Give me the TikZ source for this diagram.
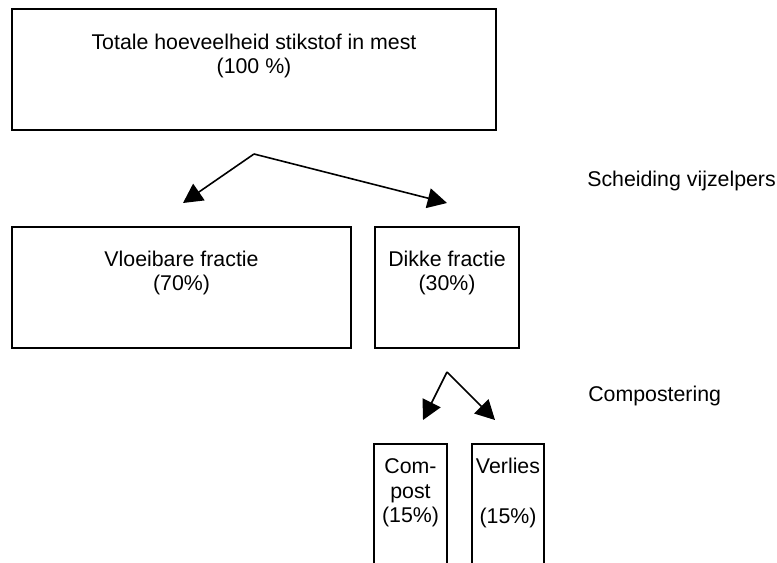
\documentclass[tikz,border=0pt]{standalone}
\usepackage{fontspec}
\setmainfont{Liberation Sans}
\usetikzlibrary{fit,arrows.meta}
\tikzset{
  box/.style={draw, line width=1.2pt, inner sep=0pt},
  txt/.style={font=\fontsize{16pt}{18.4pt}\selectfont, align=center, inner sep=0pt},
  lbl/.style={font=\fontsize{16pt}{18.4pt}\selectfont, anchor=west, inner sep=0pt},
  arr/.style={line width=1.2pt, -{Triangle[length=14.5pt,width=15pt]}}
}
\begin{document}
\begin{tikzpicture}[x=0.75pt,y=-0.75pt]
\useasboundingbox (0,0) rectangle (777,563);
\clip (0,0) rectangle (777,563);
% boxes
\node[box, fit={(12,9) (496,130)}] (top) {};
\node[box, fit={(12,227) (351,348)}] (vloei) {};
\node[box, fit={(375,227) (519,348)}] (dikke) {};
\node[box, fit={(374,444) (447,620)}] (compost) {};
\node[box, fit={(472,444) (544,620)}] (verlies) {};
% texts
\node[txt] (ttop) at (254,56) {Totale hoeveelheid stikstof in mest\\(100 \%)};
\node[txt] (tvloei) at (181.5,273) {Vloeibare fractie\\(70\%)};
\node[txt] (tdikke) at (447,273) {Dikke fractie\\(30\%)};
\node[txt] (tcompost) at (410.5,493) {Com-\\post\\(15\%)};
\node[txt] (tverlies) at (508,493) {Verlies\\\mbox{}\\(15\%)};
\node[lbl] (scheiding) at (587,181) {Scheiding vijzelpers};
\node[lbl] (compostering) at (588,396) {Compostering};
% arrows
\coordinate (apex1) at (254,154);
\coordinate (tip1a) at (183,203);
\coordinate (tip1b) at (447,203);
\coordinate (apex2) at (447,372);
\coordinate (tip2a) at (423,420);
\coordinate (tip2b) at (495,420);
\draw[arr] (apex1) -- (tip1a);
\draw[arr] (apex1) -- (tip1b);
\draw[arr] (apex2) -- (tip2a);
\draw[arr] (apex2) -- (tip2b);
\end{tikzpicture}
\end{document}
